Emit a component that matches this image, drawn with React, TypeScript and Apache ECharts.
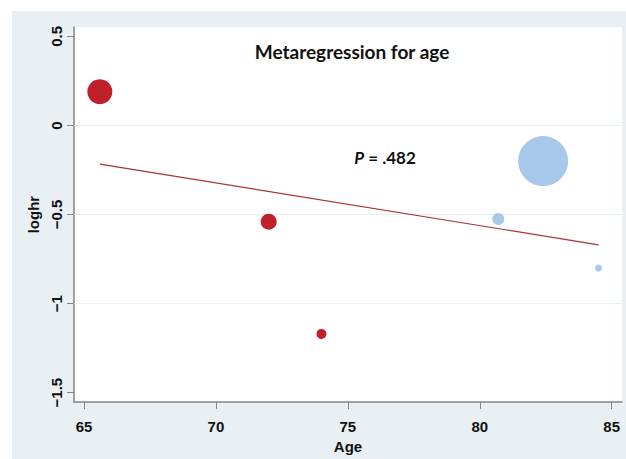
import React, { useEffect, useRef } from "react";
import * as echarts from "echarts";

// Study-level data
const redAges = [65.6, 72.0, 74.0];
const redLogHr = [0.19, -0.54, -1.17];
const redSizes = [25, 16, 10];

const blueAges = [82.4, 80.7, 84.5];
const blueLogHr = [-0.2, -0.525, -0.8];
const blueSizes = [50, 12, 7];

// Fitted meta-regression line end points
const fitAges = [65.6, 84.5];
const fitLogHr = [-0.217, -0.67];

const xTicks = [65, 70, 75, 80, 85];
const yTicks = [-1.5, -1, -0.5, 0, 0.5];
const yGridLines = [0, -0.5, -1];

const titleText = "Metaregression for age";
const pValueText = ".482";

export default function App() {
  const ref = useRef<HTMLDivElement>(null);
  useEffect(() => {
    if (!ref.current) return;
    const chart = echarts.init(ref.current, null, { renderer: "svg" });
    const labelFont = "'Liberation Sans', Arial, sans-serif";
    const toPts = (xs: number[], ys: number[], s?: number[]) =>
      xs.map((x, i) => (s ? [x, ys[i], s[i]] : [x, ys[i]]));
    chart.setOption({
      animation: false,
      backgroundColor: "#ffffff",
      grid: {
        left: 74,
        right: 4,
        top: 27,
        bottom: 56,
        show: true,
        backgroundColor: "#ffffff",
        borderWidth: 0,
      },
      graphic: [
        {
          type: "rect",
          z: -100,
          silent: true,
          shape: { x: 12, y: 11, width: 614, height: 448 },
          style: { fill: "#e8f0f3" },
        },
        {
          type: "text",
          z: 100,
          x: 352,
          y: 51,
          style: {
            text: titleText,
            fontFamily: "Lato, 'Open Sans', sans-serif",
            fontWeight: "bold",
            fontSize: 19,
            fill: "#111111",
            align: "center",
            verticalAlign: "middle",
          },
        },
        {
          type: "text",
          z: 100,
          x: 385,
          y: 157,
          style: {
            text: "{i|P} = " + pValueText,
            rich: {
              i: {
                fontStyle: "italic",
                fontWeight: "bold",
                fontSize: 17,
                fontFamily: "Lato, 'Open Sans', sans-serif",
                fill: "#111111",
              },
            },
            fontFamily: "Lato, 'Open Sans', sans-serif",
            fontWeight: "bold",
            fontSize: 17,
            fill: "#111111",
            align: "center",
            verticalAlign: "middle",
          },
        },
      ],
      xAxis: {
        type: "value",
        min: 64.621,
        max: 85.39,
        name: "Age",
        nameLocation: "middle",
        nameGap: 32,
        nameTextStyle: {
          fontFamily: labelFont,
          fontWeight: "bold",
          fontSize: 15,
          color: "#111111",
        },
        axisLine: { show: true, onZero: false, lineStyle: { color: "#858585", width: 1.5 } },
        axisTick: { show: true, length: 7, customValues: xTicks, lineStyle: { color: "#858585", width: 1 } },
        axisLabel: {
          customValues: xTicks,
          margin: 17,
          fontFamily: labelFont,
          fontWeight: "bold",
          fontSize: 15,
          color: "#111111",
        },
        splitLine: { show: false },
      },
      yAxis: {
        type: "value",
        min: -1.553,
        max: 0.553,
        name: "loghr",
        nameLocation: "middle",
        nameGap: 30,
        nameTextStyle: {
          fontFamily: labelFont,
          fontWeight: "bold",
          fontSize: 15,
          color: "#111111",
        },
        axisLine: { show: true, onZero: false, lineStyle: { color: "#858585", width: 1.5 } },
        axisTick: { show: true, length: 7, customValues: yTicks, lineStyle: { color: "#858585", width: 1 } },
        axisLabel: {
          customValues: yTicks,
          rotate: 90,
          margin: 10,
          fontFamily: labelFont,
          fontWeight: "bold",
          fontSize: 15,
          color: "#111111",
          formatter: (v: number) => String(v).replace("-", "\u2212"),
        },
        splitLine: { show: false },
      },
      series: [
        {
          type: "line",
          data: toPts(fitAges, fitLogHr),
          symbol: "none",
          lineStyle: { color: "#a8323a", width: 1.2 },
          z: 2,
          silent: true,
          markLine: {
            silent: true,
            symbol: "none",
            label: { show: false },
            lineStyle: { color: "#e9f0f2", width: 1, type: "solid" },
            data: yGridLines.map((v) => ({ yAxis: v })),
            z: 1,
          },
        },
        {
          type: "scatter",
          data: toPts(redAges, redLogHr, redSizes),
          symbolSize: (v: number[]) => v[2],
          itemStyle: { color: "#c0202a", opacity: 1 },
          z: 3,
        },
        {
          type: "scatter",
          data: toPts(blueAges, blueLogHr, blueSizes),
          symbolSize: (v: number[]) => v[2],
          itemStyle: { color: "#a8c8ea", opacity: 1 },
          z: 3,
        },
      ],
    });
    return () => chart.dispose();
  }, []);
  return (
    <div
      ref={ref}
      style={{ position: "absolute", left: 0, top: 0, width: 626, height: 459 }}
    />
  );
}
